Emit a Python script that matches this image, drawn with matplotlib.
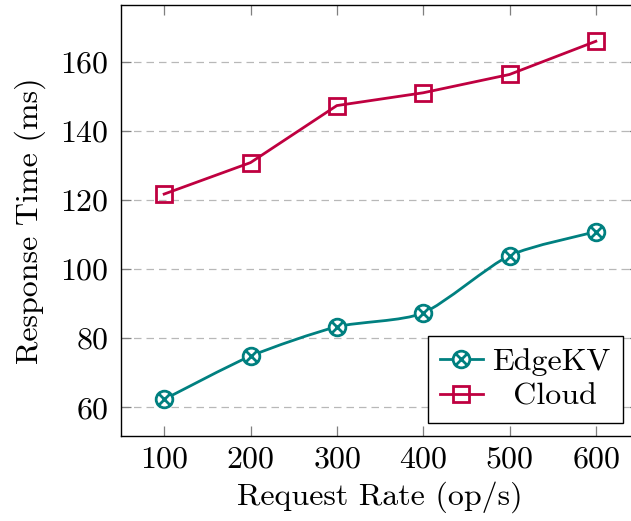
import matplotlib
matplotlib.use("Agg")
from matplotlib import pyplot as plt
from matplotlib.path import Path
from matplotlib.patches import PathPatch
from matplotlib.lines import Line2D
import numpy as np

# data
rates = [100, 200, 300, 400, 500, 600]
edgekv = [62.3, 74.8, 83.3, 87.3, 103.9, 110.8]
cloud = [121.7, 130.8, 147.3, 151.0, 156.3, 165.9]
y_ticks = [60, 80, 100, 120, 140, 160]

TEAL = "#008080"
PURPLE = "#BF0040"

plt.rcParams["font.family"] = "cmr10"
plt.rcParams["axes.formatter.use_mathtext"] = True
plt.rcParams["mathtext.fontset"] = "cm"
FS = 23


def smooth_path(xs, ys, tension=0.12):
    """cardinal spline through the points, like pgfplots' smooth"""
    pts = np.column_stack([xs, ys]).astype(float)
    n = len(pts)
    verts = [pts[0]]
    codes = [Path.MOVETO]
    for i in range(n - 1):
        prev = pts[max(i - 1, 0)]
        nxt = pts[min(i + 2, n - 1)]
        c1 = pts[i] + tension * (pts[i + 1] - prev)
        c2 = pts[i + 1] - tension * (nxt - pts[i])
        verts += [c1, c2, pts[i + 1]]
        codes += [Path.CURVE4] * 3
    return Path(verts, codes)


# circle with an x inside (pgfplots otimes)
d = np.sqrt(0.5)
circ = Path.unit_circle()
cross = Path([(-d, -d), (d, d), (-d, d), (d, -d)],
             [Path.MOVETO, Path.LINETO, Path.MOVETO, Path.LINETO])
otimes = Path.make_compound_path(circ, cross)

fig = plt.figure(figsize=(6.31, 5.21), dpi=100)
ax = fig.add_axes([121 / 631, 1 - 436 / 521, 518 / 631, 431 / 521])

# grid
for yt in y_ticks:
    ax.axhline(yt, color="#b8b8b8", lw=0.9, dashes=(6, 4), zorder=0)

edge_style = dict(color=TEAL, lw=2.0, marker=otimes, markersize=12,
                  markeredgewidth=2.0, markerfacecolor="white",
                  markeredgecolor=TEAL)
cloud_style = dict(color=PURPLE, lw=2.0, marker="s", markersize=11.5,
                   markeredgewidth=2.0, markerfacecolor="none",
                   markeredgecolor=PURPLE)

ax.add_patch(PathPatch(smooth_path(rates, edgekv), facecolor="none",
                       edgecolor=TEAL, lw=2.0, zorder=2))
ax.plot(rates, edgekv, linestyle="none", zorder=3,
        **{k: v for k, v in edge_style.items() if k not in ("color", "lw")})
ax.plot(rates, cloud, zorder=3, **cloud_style)

ax.set_xlim(50, 650)
ax.set_ylim(51.7, 176.4)
ax.set_xticks(rates)
ax.set_yticks(y_ticks)
ax.tick_params(direction="in", length=7, width=0.9, color="#7f7f7f",
               top=True, right=True, labelsize=FS, pad=7)
ax.tick_params(axis="y", pad=9)
for s in ax.spines.values():
    s.set_linewidth(1.0)

ax.set_xlabel("Request Rate (op/s)", fontsize=FS, labelpad=6)
ax.set_ylabel("Response Time (ms)", fontsize=FS, labelpad=10)

# pgfplots centres the legend entries, hence the padding before Cloud
handles = [Line2D([], [], **edge_style), Line2D([], [], **cloud_style)]
leg = ax.legend(handles, ["EdgeKV", "  Cloud"], loc="lower right",
                bbox_to_anchor=(0.969, 0.030), borderaxespad=0,
                fontsize=FS, frameon=True, fancybox=False, framealpha=1,
                edgecolor="black", handlelength=1.35, handletextpad=0.3,
                labelspacing=0.2, borderpad=0.38)
leg.get_frame().set_linewidth(1.0)

fig.savefig("out.png", dpi=100)
